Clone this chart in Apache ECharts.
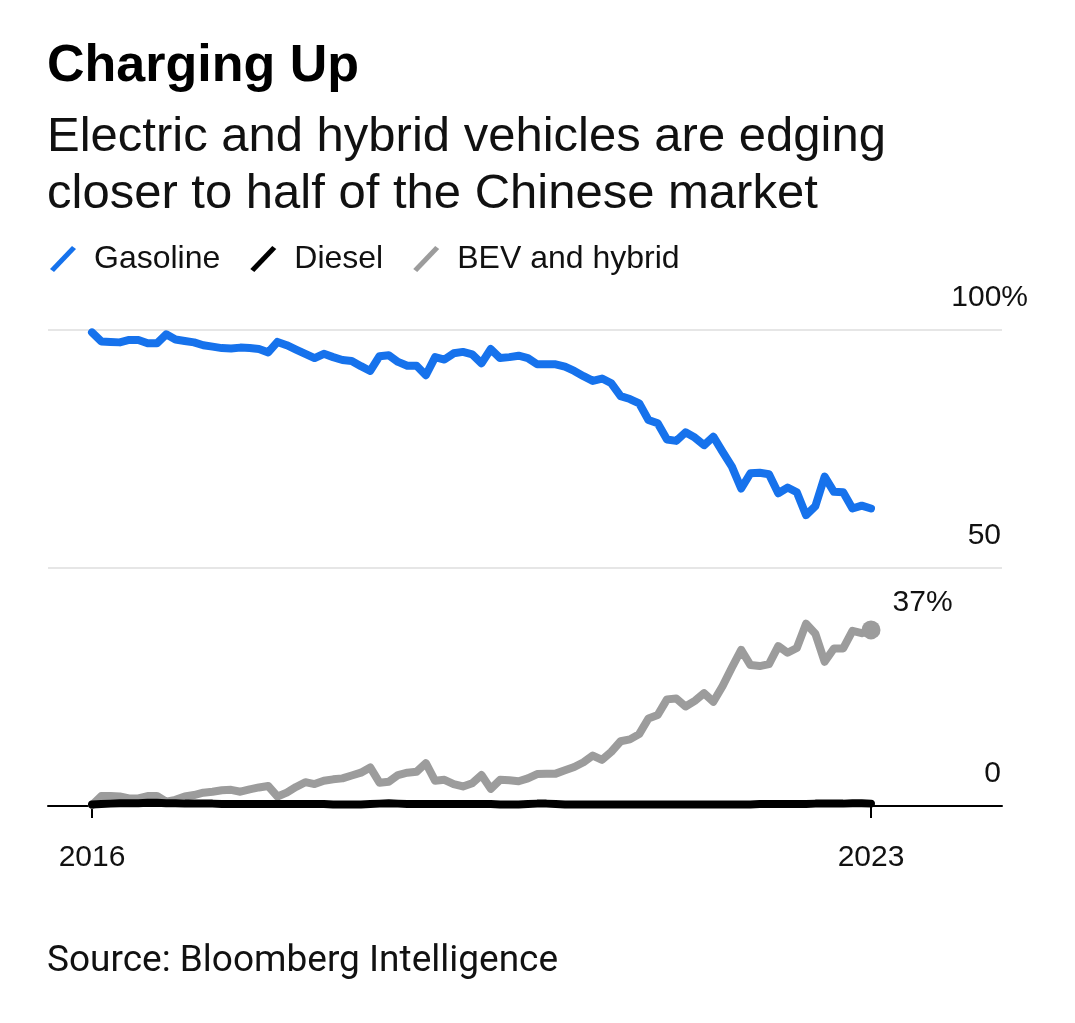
<!DOCTYPE html>
<html>
<head>
<meta charset="utf-8">
<script src="https://cdn.jsdelivr.net/npm/echarts@6/dist/echarts.min.js"></script>
<style>
html,body{margin:0;padding:0;background:#fff;}
#chart{width:1075px;height:1023px;}
</style>
</head>
<body>
<div id="chart"></div>
<script>
// Monthly share of China car sales, Jan 2016 .. Jan 2023 (percent)
const gasoline = [99.5,97.6,97.5,97.4,97.9,97.9,97.2,97.2,99.1,98.0,
  97.7,97.4,96.8,96.5,96.2,96.1,96.3,96.2,96.0,95.3,
  97.5,96.8,95.9,95.0,94.1,95.0,94.3,93.7,93.5,92.4,
  91.4,94.5,94.7,93.3,92.5,92.5,90.5,94.3,93.8,95.1,
  95.4,94.9,93.0,96.0,94.1,94.3,94.6,94.1,92.8,92.8,
  92.8,92.3,91.4,90.3,89.3,89.8,88.8,86.1,85.5,84.6,
  81.1,80.4,77.0,76.7,78.5,77.4,75.8,77.6,74.4,71.3,
  66.7,69.9,70.0,69.7,65.7,66.9,65.9,61.1,63.0,69.2,
  66.0,65.9,62.5,63.1,62.5];
const diesel = [0.3,0.4,0.5,0.6,0.6,0.6,0.7,0.7,0.6,0.6,
  0.5,0.5,0.5,0.5,0.4,0.4,0.4,0.4,0.4,0.4,
  0.4,0.4,0.4,0.4,0.4,0.4,0.3,0.3,0.3,0.3,
  0.4,0.5,0.6,0.5,0.4,0.4,0.4,0.4,0.4,0.4,
  0.4,0.4,0.4,0.4,0.3,0.3,0.3,0.4,0.5,0.5,
  0.4,0.3,0.3,0.3,0.3,0.3,0.3,0.3,0.3,0.3,
  0.3,0.3,0.3,0.3,0.3,0.3,0.3,0.3,0.3,0.3,
  0.3,0.3,0.4,0.4,0.4,0.4,0.4,0.4,0.5,0.5,
  0.5,0.5,0.6,0.6,0.5];
const bev = [0.2,2.1,2.1,2.0,1.6,1.6,2.1,2.1,0.9,1.3,
  2.0,2.3,2.8,3.0,3.3,3.4,3.0,3.5,3.9,4.2,
  2.0,2.8,4.0,5.0,4.6,5.3,5.6,5.8,6.4,7.0,
  8.1,4.9,5.1,6.5,7.0,7.2,9.0,5.3,5.5,4.6,
  4.1,4.8,6.5,3.6,5.5,5.4,5.2,5.8,6.7,6.8,
  6.8,7.5,8.2,9.2,10.6,9.7,11.4,13.6,14.0,15.1,
  18.4,19.1,22.4,22.6,20.9,22.1,23.7,21.9,25.2,29.1,
  32.8,29.6,29.4,29.8,33.6,32.2,33.2,38.3,36.2,30.3,
  33.1,33.1,36.8,36.3,37.0];
const seriesNames = ['Gasoline', 'Diesel', 'BEV and hybrid'];
const xTickIndex = [0, 84];
const xTickLabels = ['2016', '2023'];

const FONT = '"Liberation Sans", Arial, Helvetica, sans-serif';
const toPairs = arr => arr.map((v, i) => [i, v]);
const lastIdx = bev.length - 1;

const chart = echarts.init(document.getElementById('chart'));
const slash = 'path://M0,23 L22,0 L26,3 L4,26 Z';

chart.setOption({
  animation: false,
  backgroundColor: '#ffffff',
  title: [
    { text: 'Charging Up', left: 42, top: 32,
      textStyle: { fontFamily: FONT, fontWeight: 'bold', fontSize: 52, lineHeight: 60, color: '#000' } },
    { text: 'Electric and hybrid vehicles are edging\ncloser to half of the Chinese market', left: 42, top: 104,
      textStyle: { fontFamily: FONT, fontWeight: 'normal', fontSize: 49, lineHeight: 57, color: '#111' } },
    { text: 'Source: Bloomberg Intelligence', left: 42, top: 935,
      textStyle: { fontFamily: 'Roboto, sans-serif', fontWeight: 'normal', fontSize: 37, lineHeight: 44, color: '#111' } }
  ],
  legend: {
    left: 45, top: 238,
    itemWidth: 28, itemHeight: 26, itemGap: 30,
    selectedMode: false,
    data: seriesNames.map(n => ({ name: n, icon: slash })),
    textStyle: { fontFamily: FONT, fontSize: 32, color: '#111', padding: [0, 0, 0, 12] }
  },
  grid: { left: 48, right: 73, top: 330, bottom: 217, containLabel: false },
  xAxis: {
    type: 'value',
    min: -4.745, max: 98.125,
    axisLine: { show: true, lineStyle: { color: '#000', width: 2 } },
    axisTick: { show: true, length: 12, lineStyle: { color: '#000', width: 2 }, customValues: xTickIndex },
    axisLabel: {
      customValues: xTickIndex,
      margin: 37,
      fontFamily: FONT, fontSize: 30, color: '#111',
      formatter: v => xTickLabels[xTickIndex.indexOf(Math.round(v))] || ''
    },
    splitLine: { show: false }
  },
  yAxis: {
    type: 'value', position: 'right',
    min: 0, max: 100, interval: 50,
    axisLine: { show: false }, axisTick: { show: false },
    splitLine: { show: true, lineStyle: { color: '#e6e6e6', width: 2 } },
    axisLabel: {
      margin: 26, align: 'right', verticalAlign: 'bottom',
      padding: [0, 0, 17, 0],
      formatter: v => v === 100 ? '{n|100%}' : '{n|' + v + '}{s| }',
      rich: {
        n: { fontFamily: FONT, fontSize: 30, color: '#111', lineHeight: 30 },
        s: { fontFamily: FONT, fontSize: 30, width: 27, lineHeight: 30 }
      }
    }
  },
  series: [
    { name: seriesNames[0], type: 'line', data: toPairs(gasoline), showSymbol: false, z: 3,
      color: '#1672ec', lineStyle: { width: 8, color: '#1672ec', cap: 'round', join: 'round' } },
    { name: seriesNames[2], type: 'line', data: toPairs(bev), showSymbol: false, z: 3,
      color: '#9c9c9c', lineStyle: { width: 8, color: '#9c9c9c', cap: 'round', join: 'round' } },
    { name: seriesNames[1], type: 'line', data: toPairs(diesel), showSymbol: false, z: 4,
      color: '#000000', lineStyle: { width: 8, color: '#000000', cap: 'round', join: 'round' } },
    { name: 'bevEnd', type: 'scatter', z: 5, symbol: 'circle', symbolSize: 19,
      itemStyle: { color: '#9c9c9c', opacity: 1 },
      data: [[lastIdx, bev[lastIdx]]],
      label: { show: true, position: 'right', distance: 5, offset: [7, -27],
        formatter: p => Math.round(p.value[1]) + '%',
        fontFamily: FONT, fontSize: 30, color: '#111', opacity: 1 } }
  ]
});
</script>
</body>
</html>
